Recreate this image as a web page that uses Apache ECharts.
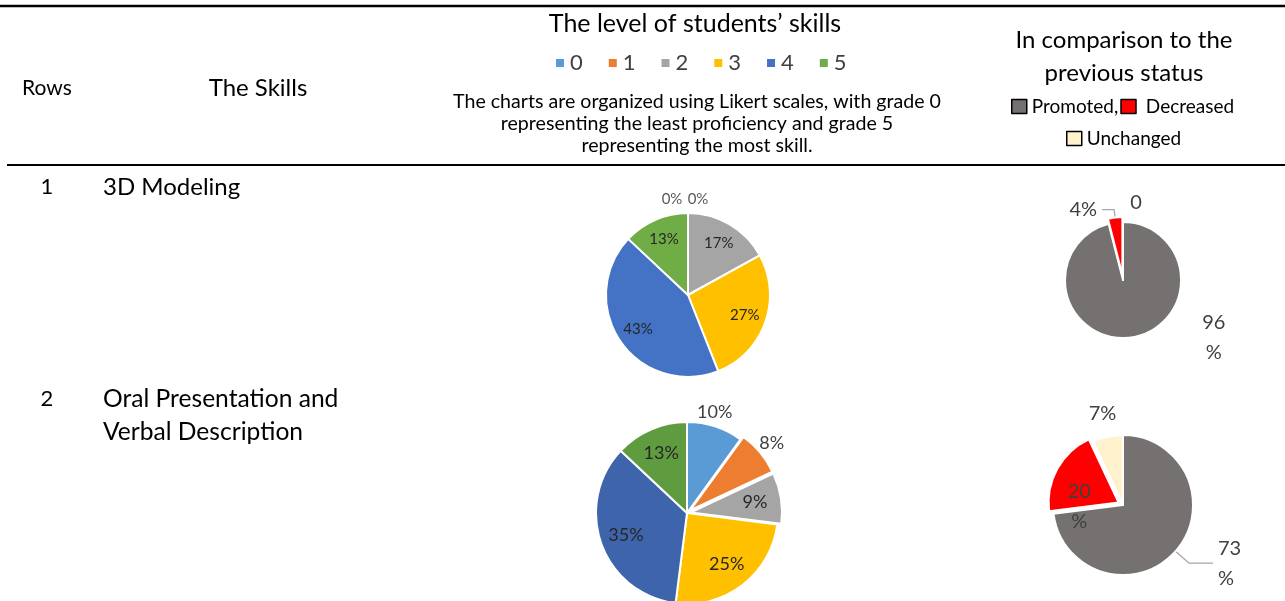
<!DOCTYPE html>
<html>
<head>
<meta charset="utf-8">
<script src="https://cdn.jsdelivr.net/npm/echarts@6/dist/echarts.min.js"></script>
<style>
  html, body { margin: 0; padding: 0; background: #fff; }
  #chart { width: 1285px; height: 601px; }
</style>
</head>
<body>
<div id="chart"></div>
<script>
var levels = ['0', '1', '2', '3', '4', '5'];
var modelingLevels = [0, 0, 17, 27, 43, 13];
var presentationLevels = [10, 8, 9, 25, 35, 13];
var statusNames = ['Promoted', 'Decreased', 'Unchanged'];
var modelingStatus = [96, 4, 0];
var presentationStatus = [73, 20, 7];
var rowNumbers = ['1', '2'];
var skillNames = ['3D Modeling', 'Oral Presentation and\nVerbal Description'];

var FONT = 'Lato, "Open Sans", sans-serif';

function makePie(cfg) {
    var total = cfg.values.reduce(function (a, b) { return a + b; }, 0);
    var data = cfg.values.map(function (v, i) {
        var o = cfg.items[i] || {};
        var item = { name: cfg.names[i], value: v, itemStyle: { color: cfg.colors[i] } };
        if (o.explode) item.selected = true;
        if (o.out) {
            item.label = { position: 'outside', distanceToLabelLine: o.gap || 0, color: cfg.outColor || cfg.labelColor };
            item.labelLine = { show: !!o.line, length: o.len, length2: o.len2 || 0 };
        }
        return item;
    });
    return {
        type: 'pie',
        center: cfg.center,
        radius: cfg.radius,
        startAngle: 90,
        clockwise: true,
        avoidLabelOverlap: false,
        selectedMode: 'multiple',
        selectedOffset: cfg.offset || 5,
        itemStyle: { borderColor: '#fff', borderWidth: 2 },
        label: {
            position: 'inside', formatter: cfg.formatter, fontFamily: FONT,
            fontSize: cfg.fontSize, color: cfg.labelColor, lineHeight: cfg.lineHeight
        },
        labelLine: { lineStyle: { color: '#a6a6a6', width: 1.3 } },
        emphasis: { scale: false },
        select: { itemStyle: { borderColor: '#fff', borderWidth: 2 } },
        data: data,
        labelLayout: function (p) {
            var o = cfg.items[p.dataIndex] || {};
            if (o.shift) return { dx: o.shift[0], dy: o.shift[1], align: 'center' };
            if (o.out) return {};
            // Excel puts inside labels further out than the half radius
            var before = 0;
            for (var k = 0; k < p.dataIndex; k++) before += cfg.values[k];
            var mid = (90 - (before + cfg.values[p.dataIndex] / 2) / total * 360) * Math.PI / 180;
            var push = cfg.radius * (cfg.push || 0);
            return { dx: Math.cos(mid) * push, dy: -Math.sin(mid) * push };
        }
    };
}

var statusLabel = function (p) {
    if (p.value === 0) return '0';
    return p.value >= 10 ? p.value + '\n%' : p.value + '%';
};

function txt(x, y, text, size, align, extra) {
    var style = {
        text: text, fontFamily: FONT, fontSize: size, fill: '#000',
        align: align || 'left', verticalAlign: 'middle'
    };
    for (var k in extra) style[k] = extra[k];
    return { type: 'text', x: x, y: y, style: style };
}

var chart = echarts.init(document.getElementById('chart'));
chart.setOption({
    backgroundColor: '#fff',
    animation: false,
    legend: [
        {
            data: levels, left: 549, top: 47, icon: 'rect',
            itemWidth: 10, itemHeight: 10, itemGap: 24, selectedMode: false,
            textStyle: { fontFamily: FONT, fontSize: 22, color: '#404040' }
        },
        {
            data: ['Promoted', 'Decreased'], left: 1006, top: 92, icon: 'rect',
            itemWidth: 15, itemHeight: 14, itemGap: 2, selectedMode: false,
            itemStyle: { borderColor: '#000', borderWidth: 1.5 },
            formatter: function (n) { return n === 'Promoted' ? 'Promoted,' : ' Decreased'; },
            textStyle: { fontFamily: FONT, fontSize: 19, color: '#000' }
        },
        {
            data: ['Unchanged'], left: 1061, top: 124, icon: 'rect',
            itemWidth: 15, itemHeight: 14, selectedMode: false,
            itemStyle: { borderColor: '#000', borderWidth: 1.5 },
            textStyle: { fontFamily: FONT, fontSize: 19, color: '#000' }
        }
    ],
    series: [
        makePie({
            names: levels, values: modelingLevels, center: [688, 295], radius: 82,
            colors: ['#5b9bd5', '#ed7d31', '#a5a5a5', '#ffc000', '#4472c4', '#70ad47'],
            formatter: '{c}%', fontSize: 15, labelColor: '#262626', outColor: '#595959', push: 0.2,
            items: [
                { out: true, len: 14, shift: [-16, 0] },
                { out: true, len: 14, shift: [10, 0] }
            ]
        }),
        makePie({
            names: levels, values: presentationLevels, center: [687, 513], radius: 91, offset: 4,
            colors: ['#5b9bd5', '#ed7d31', '#a5a5a5', '#ffc000', '#3e65ab', '#5f9b3f'],
            formatter: '{c}%', fontSize: 18, labelColor: '#262626', outColor: '#404040', push: 0.18,
            items: [
                { out: true, len: 15, shift: [-5, 0] },
                { out: true, len: 15, shift: [0, 0], explode: true },
                { explode: true }
            ]
        }),
        makePie({
            names: statusNames, values: modelingStatus, center: [1123, 280], radius: 58,
            colors: ['#767171', '#ff0000', '#fff2cc'],
            formatter: statusLabel, fontSize: 20, lineHeight: 30, labelColor: '#404040',
            items: [
                { out: true, len: 20, shift: [81, -20] },
                { out: true, line: true, len: 8, len2: 12, gap: 5, explode: true },
                { out: true, len: 19, shift: [13, 0] }
            ]
        }),
        makePie({
            names: statusNames, values: presentationStatus, center: [1123, 505], radius: 70,
            colors: ['#767171', '#ff0000', '#fff2cc'], offset: 5,
            formatter: statusLabel, fontSize: 20, lineHeight: 30, labelColor: '#404040',
            items: [
                { out: true, line: true, len: 18, len2: 24, gap: 5 },
                { explode: true, shift: [-6, 22] },
                { out: true, len: 24, shift: [0, 0] }
            ]
        })
    ],
    graphic: [
        { type: 'line', shape: { x1: 0, y1: 6, x2: 1285, y2: 6 }, style: { stroke: '#000', lineWidth: 2.5 } },
        { type: 'line', shape: { x1: 7, y1: 165, x2: 1285, y2: 165 }, style: { stroke: '#000', lineWidth: 2 } },
        txt(695, 24, 'The level of students\u2019 skills', 25, 'center'),
        txt(697, 124, 'The charts are organized using Likert scales, with grade 0\nrepresenting the least proficiency and grade 5\nrepresenting the most skill.', 19.6, 'center', { lineHeight: 22 }),
        txt(1124, 57, 'In comparison to the\nprevious status', 24, 'center', { lineHeight: 33 }),
        txt(22, 88, 'Rows', 21),
        txt(258, 88, 'The Skills', 24, 'center'),
        txt(47, 187, rowNumbers[0], 22, 'center'),
        txt(103, 187, skillNames[0], 24),
        txt(47, 399, rowNumbers[1], 22, 'center'),
        txt(103, 415.5, skillNames[1], 24.6, 'left', { lineHeight: 33 })
    ]
});
</script>
</body>
</html>
